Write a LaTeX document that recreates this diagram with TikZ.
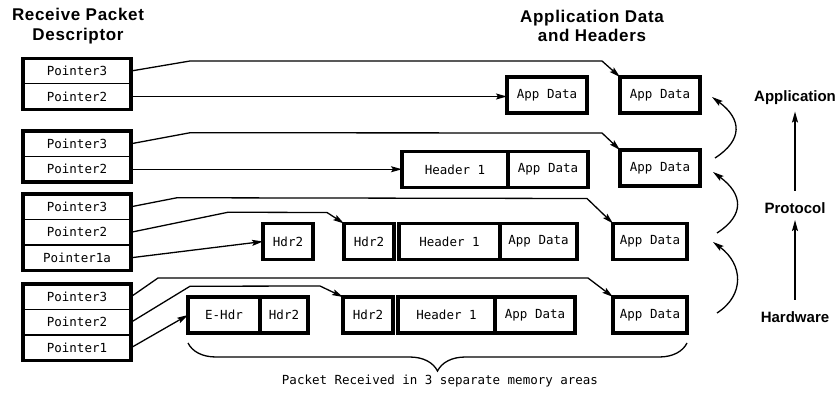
\documentclass[tikz,border=0pt]{standalone}
\usepackage{fontspec}
\setmainfont{Liberation Sans}
\newfontfamily\plotfont{DejaVu Sans Mono}
\newfontfamily\headfont[LetterSpace=4]{Liberation Sans}
\usepackage{tikz}
\usetikzlibrary{arrows.meta,positioning,decorations.pathreplacing}
\tikzstyle{arrow} = [-{Stealth[length=11pt,width=6pt,inset=2pt]}, line width=1.3pt]
\tikzstyle{ptrArrow} = [arrow, line join=round]
\tikzstyle{layerArrow} = [arrow]
\tikzstyle{descRow} = [shape = rectangle, draw, line width=1.2pt, minimum width=108pt, minimum height=25.5pt, inner sep=0pt, outer sep=0pt, font=\plotfont\fontsize{12.5}{14}\selectfont]
\tikzstyle{descFrame} = [draw, line width=3.2pt]
\tikzstyle{memBox} = [shape = rectangle, draw, line width=3.2pt, minimum height=36pt, inner sep=0pt, outer sep=0pt, font=\plotfont\fontsize{12.5}{14}\selectfont]
\tikzstyle{heading} = [font=\headfont\bfseries\fontsize{17}{19.5}\selectfont, align=center]
\tikzstyle{layer} = [font=\bfseries\fontsize{15}{18}\selectfont]
\tikzstyle{brace} = [decorate, decoration={brace, mirror, amplitude=28pt}, line width=1.3pt]

\begin{document}
\begin{tikzpicture}[x=1pt, y=-1pt]
					\useasboundingbox (0,0) rectangle (840,398);
					\node (descTitle) [heading] at (78,26) {Receive Packet\\Descriptor};
					\node (dataTitle) [heading] at (592,26) {Application Data\\and Headers};
					\node (ptr3A) [descRow] at (77,71) {Pointer3};
					\node (ptr2A) [descRow, below = 0pt of ptr3A] {Pointer2};
					\draw[descFrame] (ptr3A.north west) rectangle (ptr2A.south east);
					\node (ptr3B) [descRow] at (77,143.75) {Pointer3};
					\node (ptr2B) [descRow, below = 0pt of ptr3B] {Pointer2};
					\draw[descFrame] (ptr3B.north west) rectangle (ptr2B.south east);
					\node (ptr3C) [descRow] at (77,206.75) {Pointer3};
					\node (ptr2C) [descRow, below = 0pt of ptr3C] {Pointer2};
					\node (ptr1C) [descRow, below = 0pt of ptr2C] {Pointer1a};
					\draw[descFrame] (ptr3C.north west) rectangle (ptr1C.south east);
					\node (ptr3D) [descRow] at (77,296.75) {Pointer3};
					\node (ptr2D) [descRow, below = 0pt of ptr3D] {Pointer2};
					\node (ptr1D) [descRow, below = 0pt of ptr2D] {Pointer1};
					\draw[descFrame] (ptr3D.north west) rectangle (ptr1D.south east);
					\node (appMid1) [memBox, minimum width=80pt] at (547,95) {App Data};
					\node (appTop1) [memBox, minimum width=80pt] at (660,95) {App Data};
					\node (hdrOne2) [memBox, minimum width=106pt] at (455,169.5) {Header 1};
					\node (appMid2) [memBox, minimum width=80pt, right = 0pt of hdrOne2] {App Data};
					\node (appTop2) [memBox, minimum width=80pt] at (660,168) {App Data};
					\node (hdrTwo3a) [memBox, minimum width=50pt] at (288,241.5) {Hdr2};
					\node (hdrTwo3) [memBox, minimum width=50pt] at (369,241.5) {Hdr2};
					\node (hdrOne3) [memBox, minimum width=101pt, right = 5pt of hdrTwo3] {Header 1};
					\node (appMid3) [memBox, minimum width=77pt, right = 0pt of hdrOne3] {App Data};
					\node (appTop3) [memBox, minimum width=74pt] at (650,241.5) {App Data};
					\node (eHdr4) [memBox, minimum width=72pt] at (224,315) {E-Hdr};
					\node (hdrTwo4a) [memBox, minimum width=48pt, right = 0pt of eHdr4] {Hdr2};
					\node (hdrTwo4) [memBox, minimum width=50pt] at (368,315) {Hdr2};
					\node (hdrOne4) [memBox, minimum width=97pt, right = 5pt of hdrTwo4] {Header 1};
					\node (appMid4) [memBox, minimum width=80pt, right = 0pt of hdrOne4] {App Data};
					\node (appTop4) [memBox, minimum width=74pt] at (650,315) {App Data};
					\draw[ptrArrow] (ptr3A.east) -- ++(59,-10) -- ([shift={(-18,-16)}]appTop1.north west) -- (appTop1.north west);
					\draw[ptrArrow] (ptr2A.east) -- (ptr2A.east -| appMid1.west);
					\draw[ptrArrow] (ptr3B.east) -- ++(59,-11) -- ([shift={(-18,-17)}]appTop2.north west) -- (appTop2.north west);
					\draw[ptrArrow] (ptr2B.east) -- (ptr2B.east -| hdrOne2.west);
					\draw[ptrArrow] (ptr3C.east) -- ++(46,-9) -- ([shift={(-26,-25)}]appTop3.north west) -- (appTop3.north west);
					\draw[ptrArrow] (ptr2C.east) -- ++(97,-20) -- ([shift={(-17,-11)}]hdrTwo3.north west) -- (hdrTwo3.north west);
					\draw[ptrArrow] (ptr1C.east) -- (hdrTwo3a.west);
					\draw[ptrArrow] (ptr3D.east) -- ++(27,-18.75) -- ([shift={(-25,-19)}]appTop4.north west) -- (appTop4.north west);
					\draw[ptrArrow] (ptr2D.east) -- ++(59,-36) -- ([shift={(-23,-11)}]hdrTwo4.north west) -- (hdrTwo4.north west);
					\draw[ptrArrow] (ptr1D.east) -- (eHdr4.west);
					\draw[layerArrow] ([shift={(15,-10)}]appTop2.east) .. controls +(28,-18) and +(30,22) .. ([shift={(12,2)}]appTop1.east);
					\draw[layerArrow] ([shift={(30,-8.5)}]appTop3.east) .. controls +(28,-18) and +(30,22) .. ([shift={(13,4)}]appTop2.east);
					\draw[layerArrow] ([shift={(30,-2)}]appTop4.east) .. controls +(28,-18) and +(30,22) .. ([shift={(26,0.5)}]appTop3.east);
					\node (layerApp) [layer] at (795,98) {Application};
					\node (layerProt) [layer] at (795,208) {Protocol};
					\node (layerHw) [layer] at (795,317) {Hardware};
					\draw[arrow, shorten <=8pt, shorten >=3pt] (layerProt.north) -- (layerApp.south);
					\draw[arrow, shorten <=8pt, shorten >=3pt] (layerHw.north) -- (layerProt.south);
					\coordinate (braceL) at (188,343);
					\coordinate (braceR) at (687,343);
					\draw[brace] (braceL) -- (braceR);
					\node (braceNote) [font=\plotfont\fontsize{12.5}{14}\selectfont] at (440,381) {Packet Received in 3 separate memory areas};
					\end{tikzpicture}
\end{document}
